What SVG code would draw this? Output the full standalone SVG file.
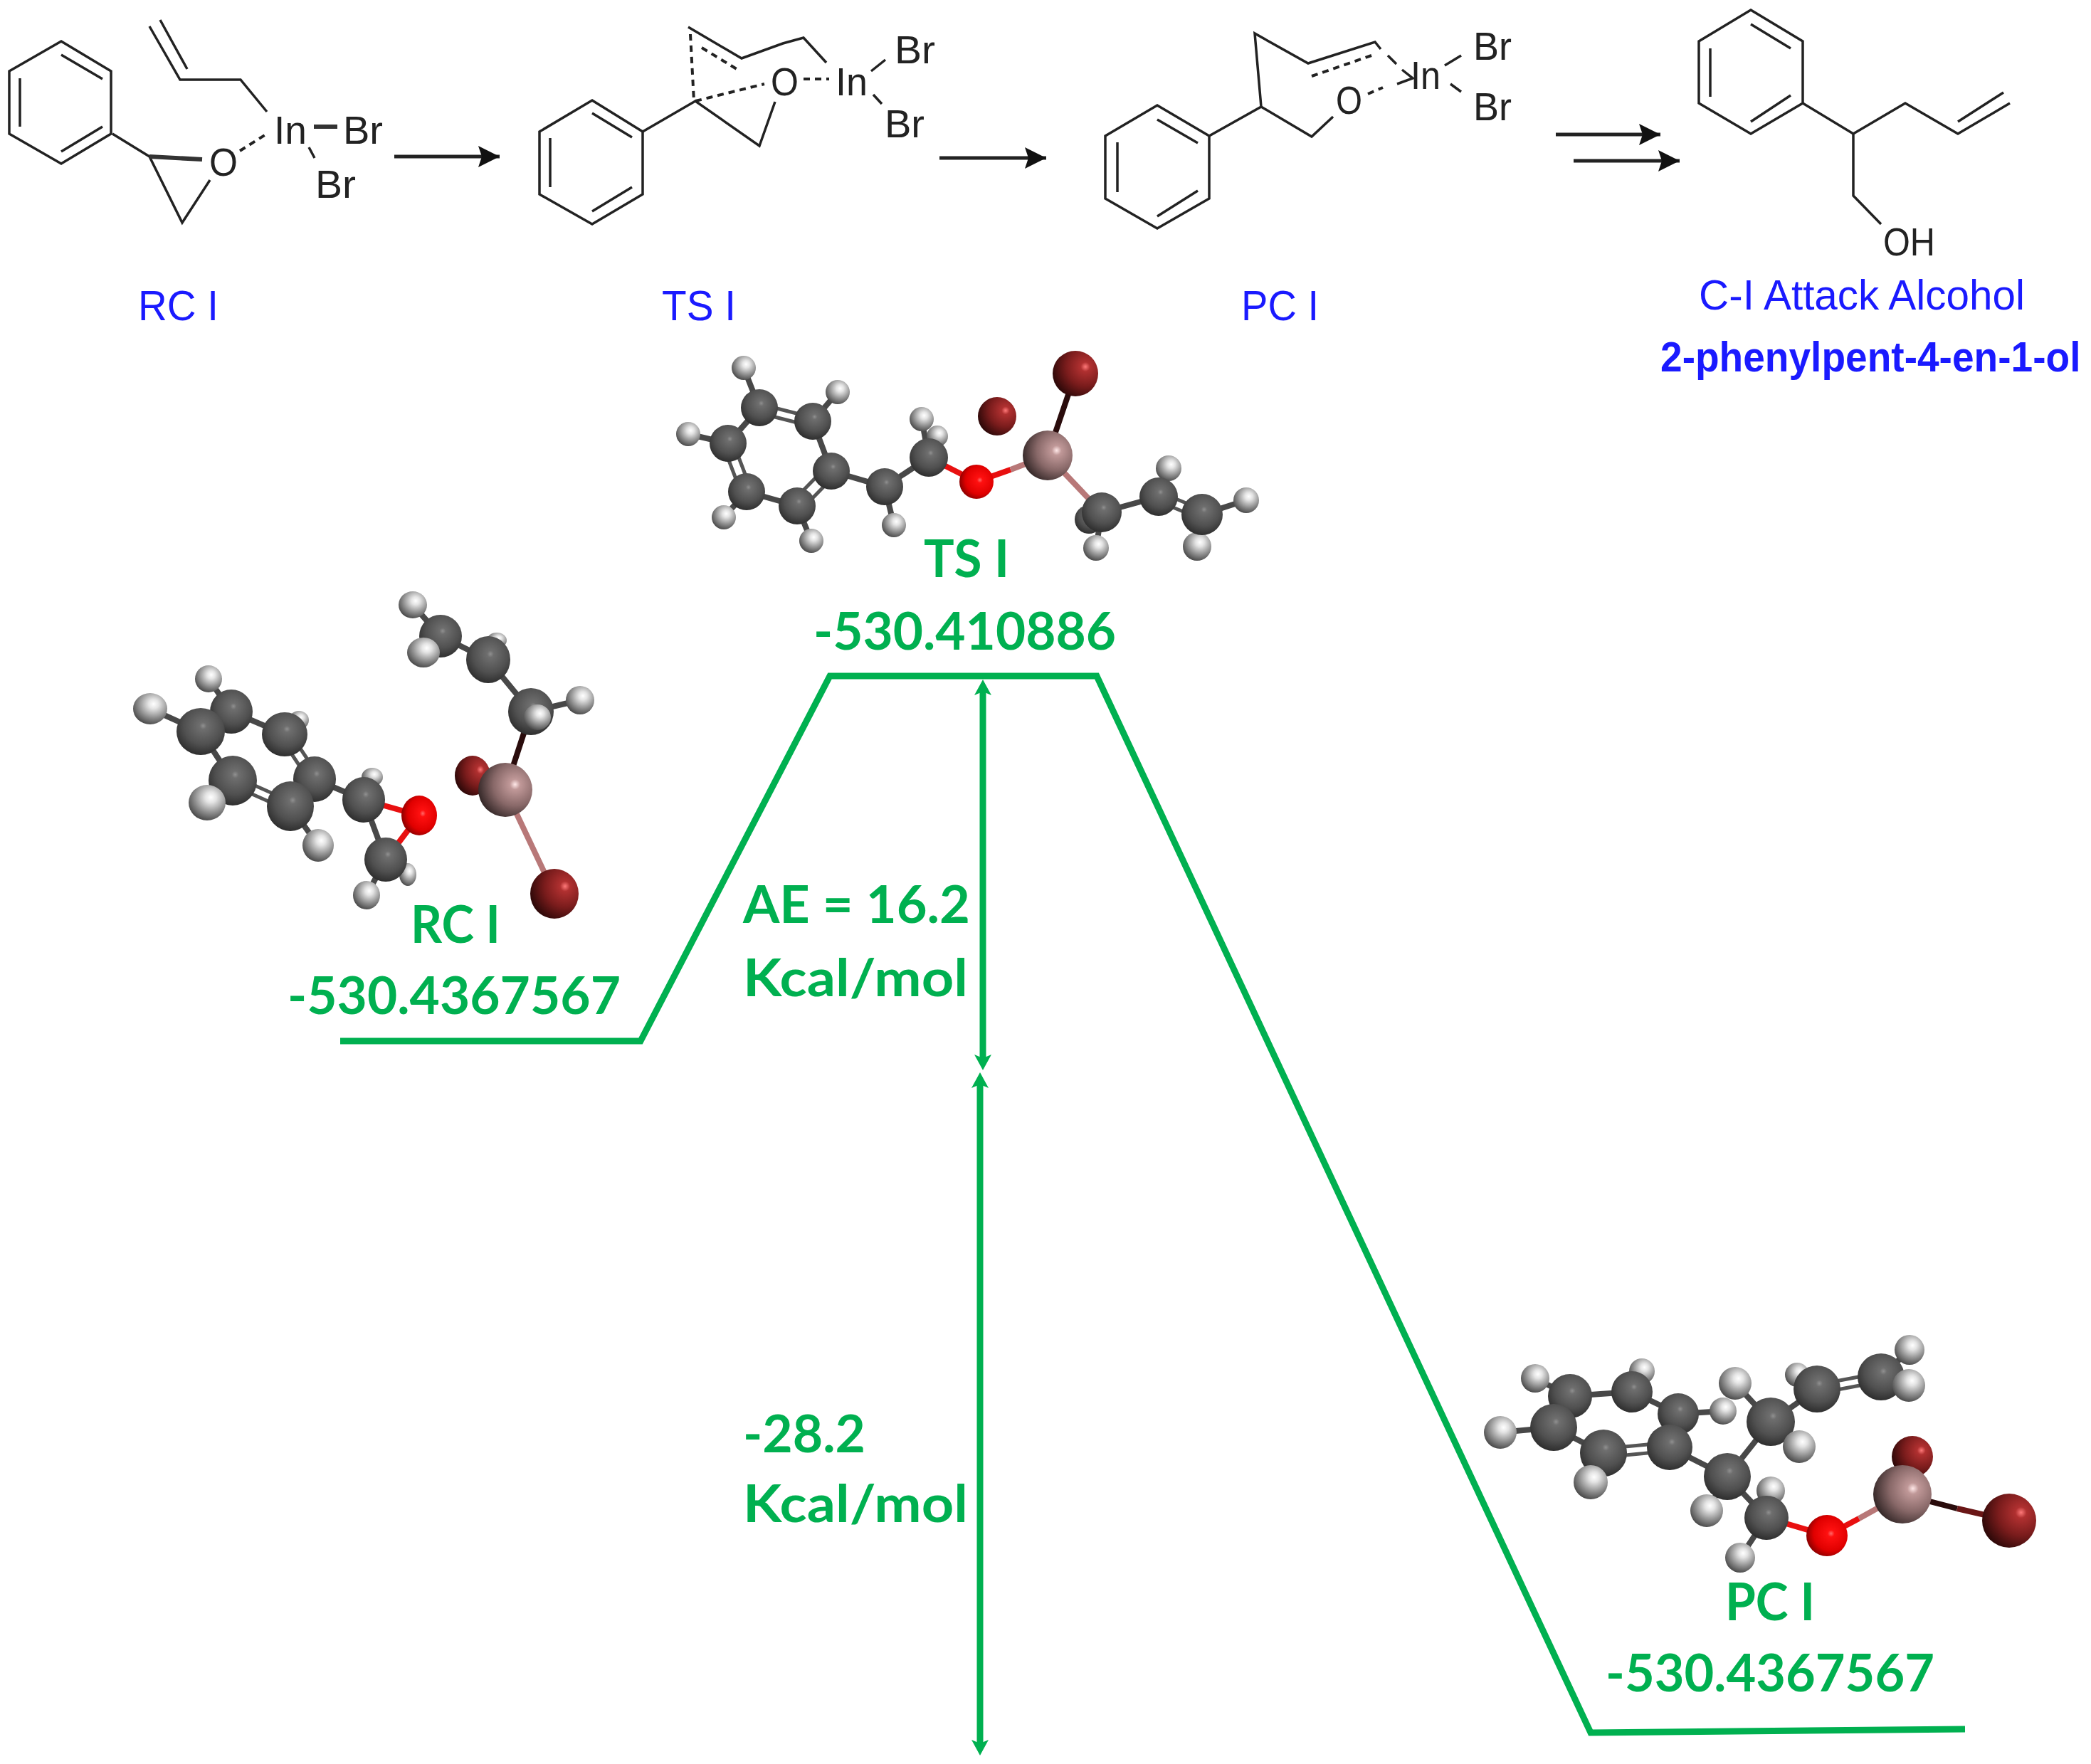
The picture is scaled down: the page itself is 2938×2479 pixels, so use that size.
<svg xmlns="http://www.w3.org/2000/svg" width="2938" height="2479" viewBox="0 0 2938 2479">
<style>
.k{stroke:#222;stroke-width:3.5;fill:none}
.kt{stroke:#333;stroke-width:6;fill:none}
.d{stroke:#222;stroke-width:4;fill:none;stroke-dasharray:9 7}
.chem{font-family:"Liberation Sans",Arial,sans-serif;font-size:55px;fill:#222}
.blue{font-family:"Liberation Sans",Arial,sans-serif;font-size:60px;fill:#1a1aff}
.blueb{font-family:"Liberation Sans",Arial,sans-serif;font-size:60px;font-weight:bold;fill:#1a1aff}
.g{font-family:Lato,"Liberation Sans",sans-serif;font-size:72px;font-weight:bold;fill:#00B050}
.rx{stroke:#222;stroke-width:5;fill:none;marker-end:url(#rh)}
.lvl{stroke:#00B050;stroke-width:9;fill:none;stroke-linejoin:miter}
.dbl{stroke:#00B050;stroke-width:9;fill:none;marker-start:url(#gs);marker-end:url(#ge)}
.b{stroke:#484848;stroke-width:8;fill:none}
.b2{stroke:#555;stroke-width:5;fill:none}
.bd{stroke:#2a0c0c;stroke-width:8;fill:none}
.bm{stroke:#6a1616;stroke-width:8;fill:none}
.bp{stroke:#b87878;stroke-width:8;fill:none}
.br{stroke:#e81010;stroke-width:8;fill:none}
.C{fill:url(#gC)}.H{fill:url(#gH)}.O{fill:url(#gO)}.In{fill:url(#gIn)}.Br{fill:url(#gBr)}
</style>
<defs>
<marker id="rh" markerUnits="userSpaceOnUse" markerWidth="36" markerHeight="36" refX="30" refY="15" orient="auto"><path d="M0 0L30 15L0 30L5 15Z" fill="#111"/></marker>
<marker id="ge" markerUnits="userSpaceOnUse" markerWidth="30" markerHeight="30" refX="10" refY="12" orient="auto"><path d="M0 0L22 12L0 24L5 12Z" fill="#00B050"/></marker>
<marker id="gs" markerUnits="userSpaceOnUse" markerWidth="30" markerHeight="30" refX="12" refY="12" orient="auto"><path d="M22 0L0 12L22 24L17 12Z" fill="#00B050"/></marker>
<radialGradient id="gC" cx=".55" cy=".38" r=".72"><stop offset="0" stop-color="#909090"/><stop offset=".1" stop-color="#6e6e6e"/><stop offset=".55" stop-color="#505050"/><stop offset=".85" stop-color="#303030"/><stop offset="1" stop-color="#141414"/></radialGradient>
<radialGradient id="gH" cx=".6" cy=".35" r=".75"><stop offset="0" stop-color="#fff"/><stop offset=".2" stop-color="#e4e4e4"/><stop offset=".6" stop-color="#8a8a8a"/><stop offset="1" stop-color="#333"/></radialGradient>
<radialGradient id="gO" cx=".6" cy=".45" r=".7"><stop offset="0" stop-color="#ff6a6a"/><stop offset=".12" stop-color="#ff1010"/><stop offset=".6" stop-color="#e00000"/><stop offset="1" stop-color="#600000"/></radialGradient>
<radialGradient id="gIn" cx=".68" cy=".4" r=".8"><stop offset="0" stop-color="#ffe8e8"/><stop offset=".12" stop-color="#c09898"/><stop offset=".5" stop-color="#886868"/><stop offset=".85" stop-color="#3a2c2c"/><stop offset="1" stop-color="#1c1414"/></radialGradient>
<radialGradient id="gBr" cx=".72" cy=".35" r=".85"><stop offset="0" stop-color="#ff7a7a"/><stop offset=".12" stop-color="#b03030"/><stop offset=".5" stop-color="#7a1c1c"/><stop offset=".85" stop-color="#340a0a"/><stop offset="1" stop-color="#1c0505"/></radialGradient>
</defs>
<rect width="2938" height="2479" fill="#fff"/>

<g id="scheme-rc">
<path class="k" d="M86 58L156 100V188L86 230L13 188V100Z"/>
<path class="k" d="M86 77L144 111M144 178L86 213M28 110V178M158 188L210 220L256 313L295 253M225 28L263 97M210 37L253 112H338L375 157M434 207L442 222"/>
<path class="kt" d="M210 220L284 224M441 178H474"/>
<path class="d" d="M337 212L375 188"/>
<text class="chem" x="294" y="247" textLength="40" lengthAdjust="spacingAndGlyphs">O</text>
<text class="chem" x="385" y="202" textLength="46" lengthAdjust="spacingAndGlyphs">In</text>
<text class="chem" x="482" y="202" textLength="56" lengthAdjust="spacingAndGlyphs">Br</text>
<text class="chem" x="443" y="278" textLength="57" lengthAdjust="spacingAndGlyphs">Br</text>
<text class="blue" x="194" y="450" textLength="113" lengthAdjust="spacingAndGlyphs">RC I</text>
</g>

<g id="scheme-ts">
<path class="k" d="M832 141L903 185V273L832 315L758 273V185Z"/>
<path class="k" d="M832 159L888 193M888 263L832 297M773 194V263M903 185L977 142L1067 205L1089 143M967 38L1042 82L1100 61L1129 53L1161 88M1224 100L1244 84M1227 133L1239 146"/>
<path class="d" d="M970 48L975 142M977 142L1074 118M986 67L1035 97M1129 111H1165"/>
<text class="chem" x="1083" y="134" textLength="39" lengthAdjust="spacingAndGlyphs">O</text>
<text class="chem" x="1174" y="134" textLength="45" lengthAdjust="spacingAndGlyphs">In</text>
<text class="chem" x="1257" y="89" textLength="57" lengthAdjust="spacingAndGlyphs">Br</text>
<text class="chem" x="1243" y="193" textLength="56" lengthAdjust="spacingAndGlyphs">Br</text>
<text class="blue" x="930" y="450" textLength="104" lengthAdjust="spacingAndGlyphs">TS I</text>
</g>

<g id="scheme-pc">
<path class="k" d="M1626 148L1699 191V279L1626 321L1553 279V191Z"/>
<path class="k" d="M1626 168L1683 201M1683 268L1626 304M1570 200V270M1699 191L1772 150L1763 47L1838 89L1932 59L1940 69M1772 150L1843 192L1873 164M2030 92L2053 78M2038 118L2053 129M1970 98L1985 110L1963 118M1950 78L1962 90"/>
<path class="d" d="M1843 107L1927 78M1922 132L1943 123"/>
<text class="chem" x="1877" y="160" textLength="37" lengthAdjust="spacingAndGlyphs">O</text>
<text class="chem" x="1982" y="125" textLength="42" lengthAdjust="spacingAndGlyphs">In</text>
<text class="chem" x="2070" y="84" textLength="54" lengthAdjust="spacingAndGlyphs">Br</text>
<text class="chem" x="2070" y="169" textLength="54" lengthAdjust="spacingAndGlyphs">Br</text>
<text class="blue" x="1744" y="450" textLength="109" lengthAdjust="spacingAndGlyphs">PC I</text>
</g>

<g id="scheme-alcohol">
<path class="k" transform="translate(-5 0)" d="M2465 14L2538 58V145L2465 188L2392 145V58Z"/>
<path class="k" transform="translate(-5 0)" d="M2465 34L2521 68M2521 134L2465 171M2408 68V136M2538 145L2609 188L2682 145L2756 188L2829 145M2756 171L2820 130M2609 188V275L2648 315"/>
<text class="chem" x="2646" y="359" textLength="73" lengthAdjust="spacingAndGlyphs">OH</text>
<text class="blue" x="2387" y="435" textLength="458" lengthAdjust="spacingAndGlyphs">C-I Attack Alcohol</text>
<text class="blueb" transform="translate(2333 522) scale(.918 1)">2-phenylpent-4-en-1-ol</text>
</g>

<g id="model-rc">
<path class="b" d="M325 1000L400 1032M442 1095L408 1133M327 1097L282 1028M293 954L325 1000M211 996L282 1028M420 1012L400 1032M291 1128L327 1097M447 1188L408 1133M442 1095L511 1124L523 1092M511 1124L542 1208L573 1229M542 1208L515 1258M580 850L619 894L595 917M619 894L686 927L698 900M686 927L746 1000L815 984"/>
<path class="b2" d="M394 1036L436 1099M406 1028L448 1091M410 1127L329 1091M406 1139L325 1103M325 994L282 1022M325 1006L282 1034"/>
<path class="bd" d="M746 1000L710 1110L664 1090"/>
<path class="bp" d="M710 1110L779 1256"/>
<path class="br" d="M511 1124L589 1146L542 1208"/>
<ellipse class="H" cx="293" cy="954" rx="19" ry="19"/><ellipse class="H" cx="211" cy="996" rx="24" ry="22"/>
<ellipse class="H" cx="420" cy="1012" rx="14" ry="13"/>
<ellipse class="C" cx="325" cy="1000" rx="30" ry="31"/><ellipse class="C" cx="282" cy="1028" rx="34" ry="33"/><ellipse class="C" cx="400" cy="1032" rx="32" ry="31"/>
<ellipse class="C" cx="442" cy="1095" rx="30" ry="32"/><ellipse class="C" cx="327" cy="1097" rx="34" ry="35"/><ellipse class="C" cx="408" cy="1133" rx="33" ry="35"/>
<ellipse class="H" cx="291" cy="1128" rx="26" ry="25"/><ellipse class="H" cx="447" cy="1188" rx="22" ry="23"/>
<ellipse class="H" cx="523" cy="1092" rx="15" ry="13"/><ellipse class="C" cx="511" cy="1124" rx="30" ry="32"/><ellipse class="O" cx="589" cy="1146" rx="25" ry="28"/>
<ellipse class="H" cx="573" cy="1229" rx="12" ry="16"/><ellipse class="C" cx="542" cy="1208" rx="30" ry="31"/><ellipse class="H" cx="515" cy="1258" rx="19" ry="20"/>
<ellipse class="H" cx="580" cy="850" rx="20" ry="19"/><ellipse class="C" cx="619" cy="894" rx="30" ry="30"/><ellipse class="H" cx="595" cy="917" rx="23" ry="21"/>
<ellipse class="H" cx="698" cy="900" rx="14" ry="11"/><ellipse class="C" cx="686" cy="927" rx="31" ry="33"/>
<ellipse class="H" cx="815" cy="984" rx="20" ry="20"/><ellipse class="C" cx="746" cy="1000" rx="32" ry="33"/><ellipse class="H" cx="755" cy="1008" rx="19" ry="18"/>
<ellipse class="Br" cx="664" cy="1090" rx="25" ry="28"/><ellipse class="In" cx="710" cy="1110" rx="38" ry="38"/><ellipse class="Br" cx="779" cy="1256" rx="34" ry="35"/>
</g>

<g id="model-ts">
<path class="b" d="M1142 592L1168 662M1120 711L1049 691M1023 623L1067 573M1045 517L1067 573M1177 551L1142 592M967 610L1023 623M1017 727L1049 691M1140 760L1120 711M1168 662L1243 684L1256 738M1243 684L1305 643L1295 589M1305 643L1317 613M1548 720L1540 770M1548 720L1628 698L1642 658M1689 723L1751 703M1689 723L1682 768"/>
<path class="b2" d="M1068 568L1143 587M1065 580L1140 599M1162 655L1114 704M1174 667L1126 716M1042 694L1016 626M1056 690L1030 622M1630 692L1691 717M1626 704L1687 729"/>
<path class="br" d="M1305 643L1372 677L1420 660"/>
<path class="bp" d="M1420 660L1472 640L1548 720"/>
<path class="bd" d="M1472 640L1511 525"/>
<ellipse class="H" cx="1045" cy="517" rx="17" ry="17"/><ellipse class="H" cx="1177" cy="551" rx="17" ry="17"/><ellipse class="H" cx="967" cy="610" rx="17" ry="17"/>
<ellipse class="H" cx="1017" cy="727" rx="17" ry="17"/><ellipse class="H" cx="1140" cy="760" rx="17" ry="17"/><ellipse class="H" cx="1256" cy="738" rx="17" ry="17"/>
<ellipse class="H" cx="1295" cy="589" rx="17" ry="17"/><ellipse class="H" cx="1317" cy="613" rx="15" ry="15"/>
<ellipse class="H" cx="1540" cy="770" rx="18" ry="18"/><ellipse class="H" cx="1642" cy="658" rx="18" ry="18"/><ellipse class="H" cx="1751" cy="703" rx="18" ry="18"/><ellipse class="H" cx="1682" cy="768" rx="20" ry="20"/>
<ellipse class="C" cx="1067" cy="573" rx="26" ry="26"/><ellipse class="C" cx="1142" cy="592" rx="26" ry="26"/><ellipse class="C" cx="1023" cy="623" rx="26" ry="26"/>
<ellipse class="C" cx="1168" cy="662" rx="26" ry="26"/><ellipse class="C" cx="1049" cy="691" rx="26" ry="26"/><ellipse class="C" cx="1120" cy="711" rx="26" ry="26"/>
<ellipse class="C" cx="1243" cy="684" rx="26" ry="26"/><ellipse class="C" cx="1305" cy="643" rx="27" ry="27"/><ellipse class="O" cx="1372" cy="677" rx="24" ry="24"/>
<ellipse class="In" cx="1472" cy="640" rx="35" ry="35"/><ellipse class="Br" cx="1511" cy="525" rx="32" ry="32"/><ellipse class="Br" cx="1401" cy="585" rx="27" ry="27"/>
<ellipse class="C" cx="1530" cy="730" rx="20" ry="20"/><ellipse class="C" cx="1548" cy="720" rx="28" ry="28"/><ellipse class="C" cx="1628" cy="698" rx="27" ry="27"/><ellipse class="C" cx="1689" cy="723" rx="29" ry="29"/>
</g>

<g id="model-pc">
<path class="b" d="M2206 1962L2293 1956L2358 1987L2346 2034M2253 2042L2183 2006L2206 1962M2157 1937L2206 1962M2307 1927L2293 1956M2108 2013L2183 2006M2235 2083L2253 2042M2421 1983L2358 1987M2346 2034L2427 2075L2488 1998L2438 1944M2488 1998L2553 1952L2525 1932M2488 1998L2528 2033M2643 1935L2683 1897M2643 1935L2682 1947M2427 2075L2398 2123M2427 2075L2482 2133L2488 2095M2482 2133L2445 2189"/>
<path class="b2" d="M2253 2036L2346 2027M2253 2048L2346 2039M2553 1946L2643 1929M2555 1958L2645 1941"/>
<path class="br" d="M2482 2133L2567 2158L2612 2134"/>
<path class="bp" d="M2612 2134L2673 2100"/>
<path class="bd" d="M2673 2100L2750 2120M2673 2100L2687 2047"/>
<path class="bm" d="M2750 2120L2823 2137"/>
<ellipse class="H" cx="2157" cy="1937" rx="20" ry="20"/><ellipse class="H" cx="2307" cy="1927" rx="18" ry="18"/><ellipse class="H" cx="2108" cy="2013" rx="23" ry="23"/>
<ellipse class="H" cx="2525" cy="1932" rx="17" ry="17"/><ellipse class="H" cx="2488" cy="2095" rx="20" ry="20"/><ellipse class="H" cx="2683" cy="1897" rx="21" ry="21"/>
<ellipse class="C" cx="2206" cy="1962" rx="31" ry="31"/><ellipse class="C" cx="2293" cy="1956" rx="29" ry="29"/><ellipse class="C" cx="2183" cy="2006" rx="33" ry="33"/>
<ellipse class="C" cx="2358" cy="1987" rx="29" ry="29"/><ellipse class="H" cx="2421" cy="1983" rx="19" ry="19"/><ellipse class="H" cx="2438" cy="1944" rx="23" ry="23"/>
<ellipse class="C" cx="2488" cy="1998" rx="34" ry="34"/><ellipse class="C" cx="2553" cy="1952" rx="33" ry="33"/><ellipse class="C" cx="2643" cy="1935" rx="33" ry="33"/>
<ellipse class="H" cx="2682" cy="1947" rx="23" ry="23"/><ellipse class="H" cx="2528" cy="2033" rx="23" ry="23"/>
<ellipse class="C" cx="2253" cy="2042" rx="33" ry="33"/><ellipse class="H" cx="2235" cy="2083" rx="24" ry="24"/><ellipse class="C" cx="2346" cy="2034" rx="32" ry="32"/>
<ellipse class="C" cx="2427" cy="2075" rx="33" ry="33"/><ellipse class="H" cx="2398" cy="2123" rx="23" ry="23"/>
<ellipse class="C" cx="2482" cy="2133" rx="31" ry="31"/><ellipse class="H" cx="2445" cy="2189" rx="21" ry="21"/><ellipse class="O" cx="2567" cy="2158" rx="29" ry="29"/>
<ellipse class="Br" cx="2687" cy="2047" rx="29" ry="29"/><ellipse class="In" cx="2673" cy="2100" rx="41" ry="41"/><ellipse class="Br" cx="2823" cy="2137" rx="38" ry="38"/>
</g>

<g id="label-rc"><text class="g" x="577" y="1325" textLength="126" lengthAdjust="spacingAndGlyphs">RC I</text><text class="g" x="404" y="1425" textLength="468" lengthAdjust="spacingAndGlyphs">-530.4367567</text></g>
<g id="label-ts"><text class="g" x="1298" y="811" textLength="120" lengthAdjust="spacingAndGlyphs">TS I</text><text class="g" x="1143" y="913" textLength="425" lengthAdjust="spacingAndGlyphs">-530.410886</text></g>
<g id="label-pc"><text class="g" x="2424" y="2277" textLength="126" lengthAdjust="spacingAndGlyphs">PC I</text><text class="g" x="2256" y="2377" textLength="462" lengthAdjust="spacingAndGlyphs">-530.4367567</text></g>
<g id="label-ae"><text class="g" x="1044" y="1297" textLength="319" lengthAdjust="spacingAndGlyphs">AE = 16.2</text><text class="g" x="1044" y="1400" textLength="316" lengthAdjust="spacingAndGlyphs">Kcal/mol</text></g>
<g id="label-exo"><text class="g" x="1044" y="2041" textLength="172" lengthAdjust="spacingAndGlyphs">-28.2</text><text class="g" x="1044" y="2139" textLength="316" lengthAdjust="spacingAndGlyphs">Kcal/mol</text></g>

<g id="connectors">
<path class="rx" d="M554 220H702"/>
<path class="rx" d="M1320 222H1470"/>
<path class="rx" d="M2186 189H2333"/>
<path class="rx" d="M2211 226H2360"/>
<path class="lvl" d="M478 1463H900L1166 950H1541L2235 2435L2761 2430"/>
<path class="dbl" d="M1381 967V1492"/>
<path class="dbl" d="M1377 1519V2455"/>
</g>
</svg>
